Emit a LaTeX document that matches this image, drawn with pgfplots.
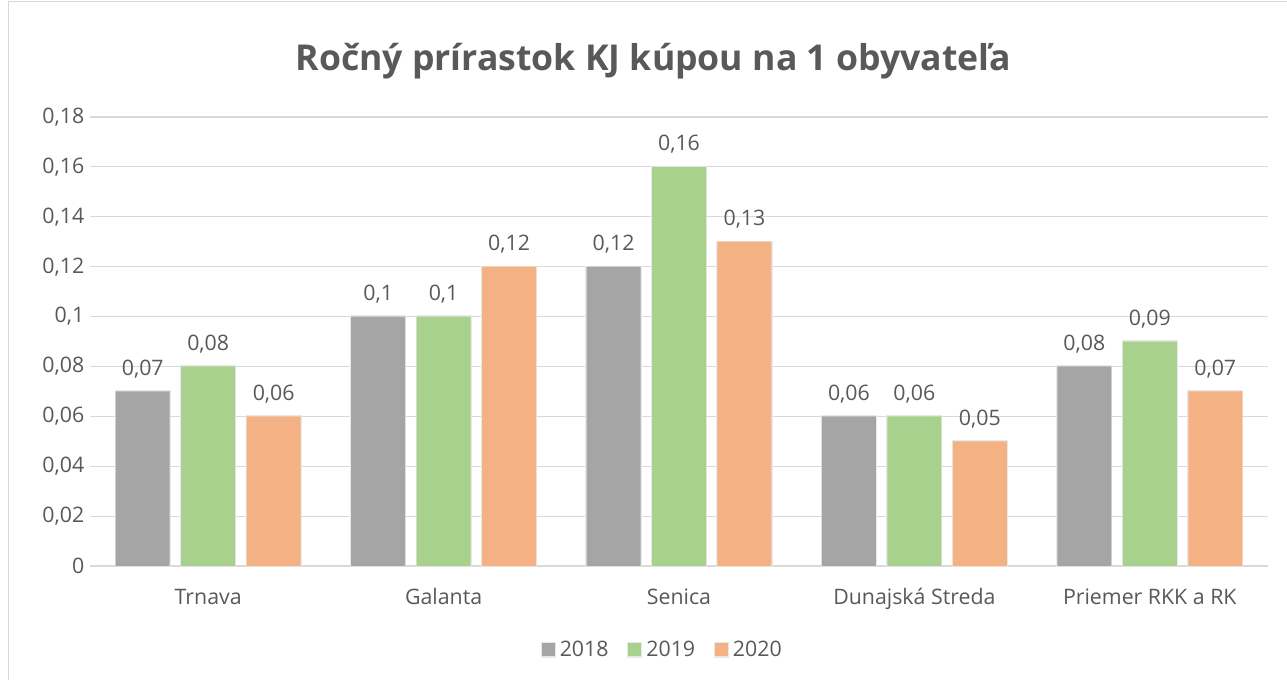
\documentclass[border=0pt]{standalone}
\usepackage{fontspec}
\setmainfont{Open Sans}
\usepackage{pgfplots}
\pgfplotsset{compat=1.18}
\definecolor{c18}{HTML}{A5A5A5}
\definecolor{c19}{HTML}{A9D18E}
\definecolor{c20}{HTML}{F4B183}
\definecolor{txt}{HTML}{595959}
\definecolor{gridc}{HTML}{D9D9D9}
\tikzset{barshadow/.style={preaction={draw=black!9, line width=1.6pt}}}
\begin{document}
\begin{tikzpicture}
\useasboundingbox (0,0) rectangle (965.25pt,-510pt);
\fill[white] (0,0) rectangle (965.25pt,-510pt);
\draw[gridc, line width=0.75pt] (6pt,-1.5pt) rectangle (990pt,-530pt);
\node[text=txt, font=\fontsize{26.7}{32}\selectfont\bfseries] at (490pt,-46pt) {Ročný prírastok KJ kúpou na 1 obyvateľa};
\begin{axis}[
  at={(67.875pt,-424.5pt)}, anchor=south west,
  scale only axis, width=882.75pt, height=336.75pt,
  xmin=-0.5, xmax=4.5, ymin=0, ymax=0.18,
  ybar=8.6pt, bar width=40.5pt,
  axis line style={draw=none},
  major tick length=0pt, tick style={draw=none},
  ymajorgrids, grid style={gridc, line width=0.9pt},
  xtick={0,1,2,3,4},
  xticklabels={Trnava,Galanta,Senica,Dunajská Streda,Priemer RKK a RK},
  ytick={0,0.02,0.04,0.06,0.08,0.1,0.12,0.14,0.16,0.18},
  ticklabel style={font=\fontsize{16}{19}\selectfont, text=txt},
  yticklabel style={anchor=east, inner sep=0pt, xshift=-4.5pt},
  xticklabel style={anchor=base, inner sep=0pt, yshift=-29pt},
  /pgf/number format/.cd, fixed, precision=2, use comma, assume math mode=true, /pgfplots/.cd,
  scaled y ticks=false,
  nodes near coords,
  every node near coord/.append style={font=\fontsize{16}{19}\selectfont, text=txt, anchor=base, inner sep=0pt, yshift=12pt},
  legend style={at={(0.486,-0.187)}, anchor=center, draw=none, fill=none,
    font=\fontsize{16}{19}\selectfont, text=txt, legend columns=-1,
    /tikz/every odd column/.append style={column sep=1pt},
    /tikz/every even column/.append style={column sep=12pt}},
]
\addplot[fill=c18, draw=none, barshadow, legend image code/.code={\fill[c18] (0pt,-4.875pt) rectangle (9.75pt,4.875pt);}] coordinates {(0,0.07) (1,0.1) (2,0.12) (3,0.06) (4,0.08)};
\addplot[fill=c19, draw=none, barshadow, legend image code/.code={\fill[c19] (0pt,-4.875pt) rectangle (9.75pt,4.875pt);}] coordinates {(0,0.08) (1,0.1) (2,0.16) (3,0.06) (4,0.09)};
\addplot[fill=c20, draw=none, barshadow, legend image code/.code={\fill[c20] (0pt,-4.875pt) rectangle (9.75pt,4.875pt);}] coordinates {(0,0.06) (1,0.12) (2,0.13) (3,0.05) (4,0.07)};
\legend{2018,2019,2020}
\end{axis}
\end{tikzpicture}
\end{document}
